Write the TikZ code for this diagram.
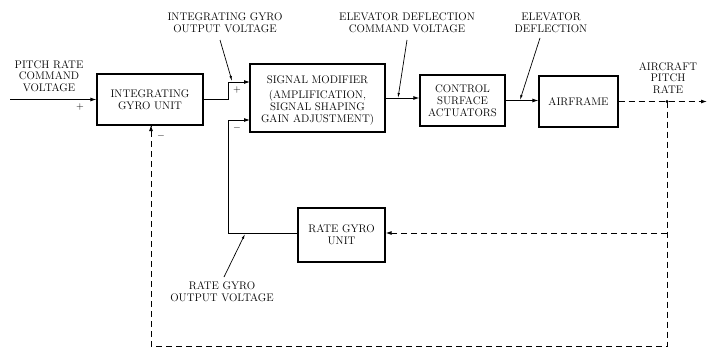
\documentclass[tikz,border=0pt]{standalone}
\usepackage{fontspec}
\usetikzlibrary{arrows.meta}
\newcommand{\lblfont}{\fontsize{11}{11.8}\selectfont\addfontfeatures{LetterSpace=12}}
\begin{document}
\begin{tikzpicture}[x=1pt,y=-1pt,
  every node/.style={font=\lblfont, align=center, inner sep=0pt},
  blk/.style={draw, line width=1.2pt, rectangle},
  conn/.style={line width=0.9pt, -{Latex[length=6pt,width=4pt]}},
  plain/.style={line width=0.9pt},
  fb/.style={line width=1pt, dash pattern=on 6pt off 4pt},
  lead/.style={line width=0.7pt, -{Latex[length=5pt,width=2.5pt]}},
  sgn/.style={font=\fontsize{10}{12}\selectfont}]
\useasboundingbox (0,0) rectangle (708,350);
% blocks
\node[blk, minimum width=106, minimum height=51] (ig) at (150,99.5) {INTEGRATING\\GYRO UNIT};
\node[blk, minimum width=135, minimum height=68] (sm) at (317.5,98) {};
\node (smt) at (317.5,80) {SIGNAL MODIFIER};
\node (smb) at (317.5,108) {(AMPLIFICATION,\\SIGNAL SHAPING\\GAIN ADJUSTMENT)};
\node[blk, minimum width=85, minimum height=51] (csa) at (462.5,100.5) {CONTROL\\SURFACE\\ACTUATORS};
\node[blk, minimum width=79, minimum height=51] (af) at (578.5,101.5) {AIRFRAME};
\node[blk, minimum width=87, minimum height=54] (rg) at (341.5,235) {RATE GYRO\\UNIT};
% coordinates
\coordinate (in) at (10,99.5);
\coordinate (j1) at (228,99.5);
\coordinate (j1t) at (228,82);
\coordinate (smp) at (250,82);
\coordinate (j2) at (228,233);
\coordinate (j2t) at (228,120);
\coordinate (smm) at (250,120);
\coordinate (jo) at (667,101.5);
\coordinate (out) at (707,101.5);
\coordinate (jr) at (667,233);
\coordinate (br) at (667,346);
\coordinate (bl) at (151,346);
\coordinate (igb) at (151,125);
% forward path
\draw[conn] (in) -- (ig.west |- in);
\draw[plain] (ig.east |- j1) -- (j1) -- (j1t);
\draw[conn] (j1t) -- (smp);
\draw[plain] (rg.west |- j2) -- (j2) -- (j2t);
\draw[conn] (j2t) -- (smm);
\draw[conn] (sm.east) -- (sm.east -| csa.west);
\draw[conn] (csa.east) -- (csa.east -| af.west);
% feedback
\draw[fb, -{Latex[length=6pt,width=4pt]}] (af.east) -- (out);
\fill (jo) circle (1.6pt);
\draw[fb] (jo) -- (br) -- (bl) -- (igb);
\draw[line width=1pt, -{Latex[length=6pt,width=4pt]}] (151,134) -- (igb);
\draw[fb, -{Latex[length=6pt,width=4pt]}] (jr) -- (rg.east |- jr);
% signs
\node[sgn] (p1) at (80,107) {+};
\node[sgn] (p2) at (237,90) {+};
\node[sgn] (m1) at (237,128) {$-$};
\node[sgn] (m2) at (161,136) {$-$};
% labels
\node (l1) at (49,76) {PITCH RATE\\COMMAND\\VOLTAGE};
\node (l2) at (225,23) {INTEGRATING GYRO\\OUTPUT VOLTAGE};
\node (l3) at (407,23) {ELEVATOR DEFLECTION\\COMMAND VOLTAGE};
\node (l4) at (551,23) {ELEVATOR\\DEFLECTION};
\node (l5) at (668,78) {AIRCRAFT\\PITCH\\RATE};
\node (l6) at (222,292) {RATE GYRO\\OUTPUT VOLTAGE};
\coordinate (a2) at (232,81);
\coordinate (a3) at (398,98);
\coordinate (a4) at (520,100);
\coordinate (a6) at (245,234);
\draw[lead] (220,40) -- (a2);
\draw[lead] (407,40) -- (a3);
\draw[lead] (540,38) -- (a4);
\draw[lead] (224,277) -- (a6);
\end{tikzpicture}
\end{document}
